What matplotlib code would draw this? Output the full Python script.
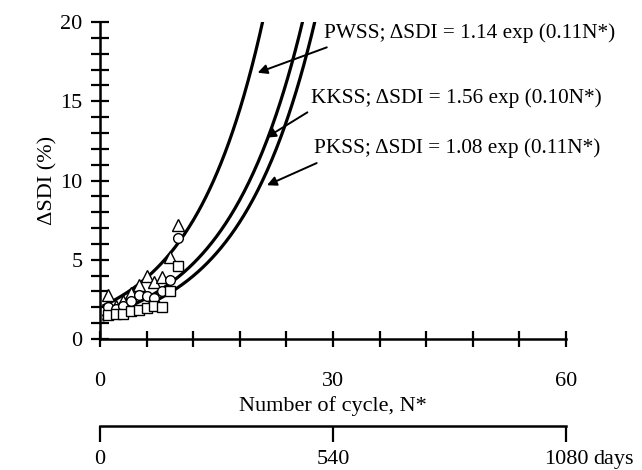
import numpy as np
import matplotlib
matplotlib.use('Agg')
import matplotlib.pyplot as plt

plt.rcParams['font.family'] = ['Liberation Serif', 'DejaVu Serif']

# measured data, cycle number N*
n_obs = [1, 2, 3, 4, 5, 6, 7, 8, 9, 10]
pwss = [2.8, 2.1, 2.4, 2.9, 3.4, 4.0, 3.6, 3.9, 5.2, 7.2]
kkss = [2.0, 1.9, 2.1, 2.4, 2.8, 2.7, 2.6, 3.0, 3.7, 6.4]
pkss = [1.5, 1.55, 1.6, 1.75, 1.85, 1.95, 2.1, 2.05, 3.0, 4.6]

# fitted curves as drawn, dSDI = a exp(b N*)
names = ['PWSS', 'KKSS', 'PKSS']
fit_a = [2.0, 1.4, 1.153]
fit_b = [0.11, 0.102, 0.1032]
labels = ['PWSS; \u0394SDI = 1.14 exp (0.11N*)',
          'KKSS; \u0394SDI = 1.56 exp (0.10N*)',
          'PKSS; \u0394SDI = 1.08 exp (0.11N*)']
label_xy = [(28.8, 19.3), (27.2, 15.2), (27.6, 12.05)]
arrow_tail = [(29.2, 18.4), (26.7, 14.3), (27.9, 11.1)]
arrow_head = [(20.3, 16.8), (21.4, 12.7), (21.5, 9.7)]

x_ticks = [0, 6, 12, 18, 24, 30, 36, 42, 48, 54, 60]
x_ticklabels = ['0', '', '', '', '', '30', '', '', '', '', '60']
day_ticks = [0, 540, 1080]

fig = plt.figure(figsize=(6.42, 4.70), dpi=100)
L, R = 100 / 642, 566 / 642
ax = fig.add_axes([L, 1 - 339 / 470, R - L, (339 - 22) / 470])

for s in ['top', 'right']:
    ax.spines[s].set_visible(False)
for s in ['left', 'bottom']:
    ax.spines[s].set_linewidth(1.8)

nn = np.linspace(0.5, 30, 300)
for a, b in zip(fit_a, fit_b):
    ax.plot(nn, a * np.exp(b * nn), color='black', lw=2.3)

ax.plot(n_obs, pwss, '^', mfc='white', mec='black', ms=8, mew=1.0, zorder=3)
ax.plot(n_obs, kkss, 'o', mfc='white', mec='black', ms=7, mew=1.0, zorder=3)
ax.plot(n_obs, pkss, 's', mfc='white', mec='black', ms=7, mew=1.0, zorder=3)

for txt, pos, tail, head in zip(labels, label_xy, arrow_tail, arrow_head):
    ax.text(pos[0], pos[1], txt, fontsize=15.3, va='center', ha='left')
    ax.annotate('', xy=head, xytext=tail,
                arrowprops=dict(arrowstyle='-|>', color='black', lw=1.4,
                                mutation_scale=14, shrinkA=0, shrinkB=0))

ax.set_xlim(0, 60)
ax.set_ylim(0, 20)
ax.set_yticks([0, 5, 10, 15, 20])
ax.set_yticks(np.arange(0, 21, 1), minor=True)
ax.set_xticks(x_ticks)
ax.set_xticklabels(x_ticklabels)
ax.tick_params(axis='y', which='both', direction='inout', length=13, width=1.6,
               labelsize=16, pad=6)
ax.tick_params(axis='x', which='major', direction='inout', length=11, width=1.6,
               labelsize=16, pad=18)
ax.set_ylabel('\u0394SDI (%)', fontsize=16, labelpad=2)
ax.set_xlabel('Number of cycle, N*', fontsize=16, labelpad=4)

# second axis in days
ax2 = fig.add_axes([L, 1 - 426 / 470, R - L, 0.0001])
ax2.set_facecolor('none')
for s in ['top', 'right', 'left']:
    ax2.spines[s].set_visible(False)
ax2.spines['bottom'].set_linewidth(1.8)
ax2.set_yticks([])
ax2.set_xlim(0, 1080)
ax2.set_xticks(day_ticks)
ax2.set_xticklabels(['0', '540', '1080'])
ax2.tick_params(axis='x', direction='out', length=11.5, width=1.6,
                labelsize=16, pad=6)

# 'days' next to the last tick label
fig.canvas.draw()
bb = ax2.get_xticklabels()[-1].get_window_extent()
inv = fig.transFigure.inverted()
x1, y0 = inv.transform((bb.x1, bb.y0))
_, y1 = inv.transform((bb.x1, bb.y1))
fig.text(x1 + 5 / 642, (y0 + y1) / 2, 'days', fontsize=16, ha='left', va='center')

fig.savefig('out.png', dpi=100)
